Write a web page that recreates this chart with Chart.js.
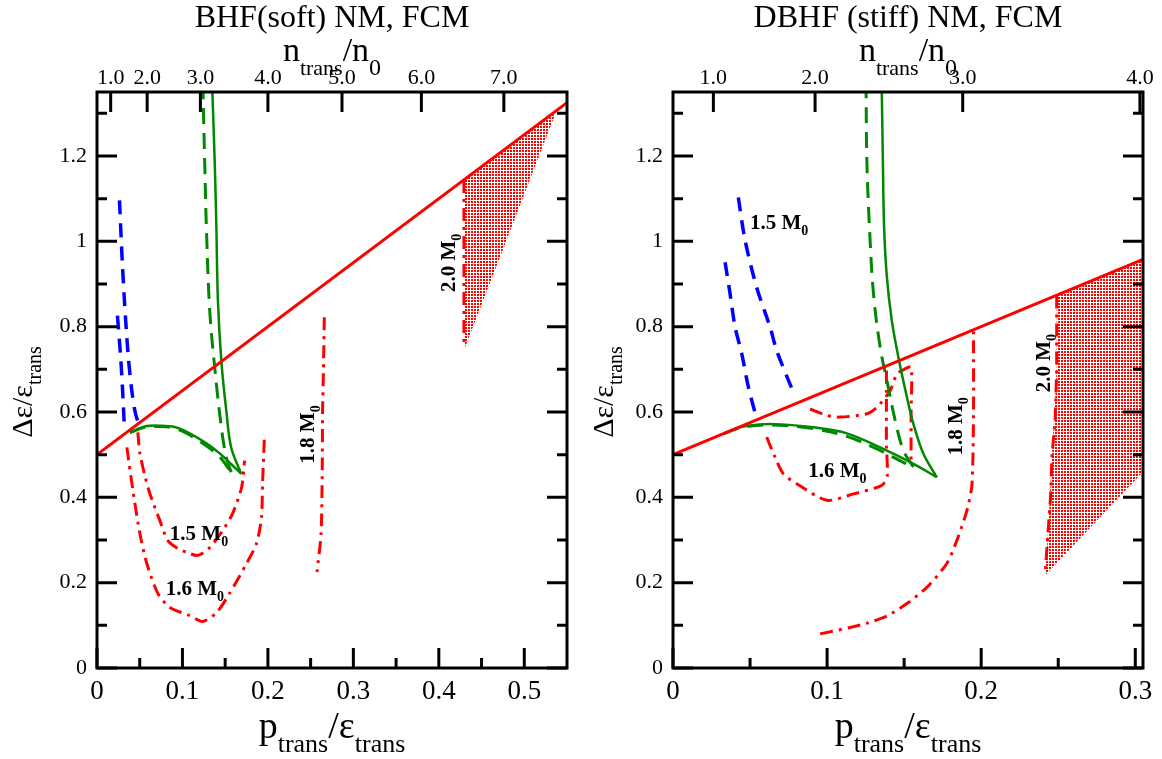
<!DOCTYPE html>
<html>
<head>
<meta charset="utf-8">
<script src="https://cdn.jsdelivr.net/npm/chart.js@4.4.1/dist/chart.umd.min.js"></script>
<style>
  body { margin: 0; background: #fff; }
  #wrap { display: flex; width: 1162px; height: 759px; }
  canvas { display: block; }
</style>
</head>
<body>
<div id="wrap">
  <canvas id="soft" width="581" height="759"></canvas>
  <canvas id="stiff" width="581" height="759"></canvas>
</div>
<script>
const SERIF = '"Liberation Serif", "Times New Roman", serif';

// ---- shared axis ticks ----
const yMajor = [0, 0.2, 0.4, 0.6, 0.8, 1.0, 1.2];
const yMajorLabels = ['0', '0.2', '0.4', '0.6', '0.8', '1', '1.2'];
const yMinor = [0.1, 0.3, 0.5, 0.7, 0.9, 1.1, 1.3];

// ---- left panel: BHF (soft) ----
const softXMajor = [0, 0.1, 0.2, 0.3, 0.4, 0.5];
const softXLabels = ['0', '0.1', '0.2', '0.3', '0.4', '0.5'];
const softXMinor = [0.05, 0.15, 0.25, 0.35, 0.45];
const softTopPos = [0.016, 0.0587, 0.121, 0.2, 0.2867, 0.3796, 0.4761];
const softTopLabels = ['1.0', '2.0', '3.0', '4.0', '5.0', '6.0', '7.0'];

const softRedLine = [[0, 0.5], [0.55, 1.325]];
const softBlueA = [[0.0263, 1.096], [0.0298, 0.943], [0.0321, 0.861], [0.0338, 0.807], [0.0368, 0.725],
  [0.0403, 0.657], [0.0443, 0.603], [0.0484, 0.573]];
const softBlueB = [[0.0239, 0.826], [0.0274, 0.737], [0.0298, 0.657], [0.0321, 0.561]];
const softGreenArc = [[0.0385, 0.552], [0.056, 0.566], [0.0735, 0.568], [0.091, 0.565], [0.1085, 0.55],
  [0.1284, 0.526], [0.1435, 0.503], [0.1575, 0.477], [0.1688, 0.455]];
const softGreenRise = [[0.1688, 0.455], [0.157, 0.517], [0.1513, 0.603], [0.1455, 0.72], [0.1415, 0.861],
  [0.1397, 1.033], [0.1377, 1.189], [0.135, 1.35]];
const softDashArc = [[0.0385, 0.552], [0.056, 0.564], [0.0735, 0.566], [0.091, 0.562], [0.1085, 0.546],
  [0.1284, 0.52], [0.1435, 0.495], [0.157, 0.459]];
const softDashRise = [[0.157, 0.459], [0.1513, 0.494], [0.1455, 0.564], [0.1377, 0.705], [0.1319, 0.838],
  [0.128, 1.033], [0.126, 1.189], [0.124, 1.35]];
const softRed15 = [[0.0478, 0.552], [0.0502, 0.503], [0.056, 0.451], [0.0618, 0.409], [0.0735, 0.346],
  [0.0828, 0.299], [0.0945, 0.28], [0.105, 0.271], [0.1179, 0.264], [0.1319, 0.282], [0.147, 0.322],
  [0.1587, 0.362], [0.1692, 0.423], [0.1727, 0.486]];
const softRed16 = [[0.035, 0.517], [0.042, 0.416], [0.0502, 0.315], [0.0583, 0.245], [0.0712, 0.175],
  [0.0852, 0.142], [0.1085, 0.123], [0.1237, 0.109], [0.14, 0.13], [0.1552, 0.175], [0.175, 0.245],
  [0.1867, 0.292], [0.1925, 0.353], [0.1937, 0.432], [0.196, 0.545]];
const softRed18 = [[0.266, 0.822], [0.265, 0.7], [0.264, 0.603], [0.2635, 0.45], [0.2622, 0.315], [0.2575, 0.225]];
const softRed20 = [[0.4294, 1.144], [0.4294, 0.75]];
const softShade = [[0.4294, 1.144], [0.538, 1.307], [0.4294, 0.745]];
const softNotes = [
  { x: 0.0852, y: 0.3, text: '1.5 M', rot: false },
  { x: 0.0805, y: 0.17, text: '1.6 M', rot: false },
  { x: 0.2544, y: 0.479, text: '1.8 M', rot: true },
  { x: 0.4189, y: 0.881, text: '2.0 M', rot: true }
];

// ---- right panel: DBHF (stiff) ----
const stiffXMajor = [0, 0.1, 0.2, 0.3];
const stiffXLabels = ['0', '0.1', '0.2', '0.3'];
const stiffXMinor = [0.05, 0.15, 0.25];
const stiffTopPos = [0.0262, 0.0922, 0.188, 0.303];
const stiffTopLabels = ['1.0', '2.0', '3.0', '4.0'];

const stiffRedLine = [[0, 0.5], [0.305, 0.9575]];
const stiffBlueA = [[0.0424, 1.103], [0.0468, 1.002], [0.0543, 0.892], [0.063, 0.799], [0.0673, 0.744], [0.0781, 0.646]];
const stiffBlueB = [[0.0338, 0.951], [0.037, 0.878], [0.0403, 0.799], [0.0446, 0.737], [0.0487, 0.662], [0.0543, 0.584]];
const stiffGreenArc = [[0.0327, 0.549], [0.0435, 0.564], [0.0565, 0.571], [0.0695, 0.571], [0.0909, 0.564],
  [0.1128, 0.55], [0.1344, 0.517], [0.1558, 0.479], [0.1712, 0.447]];
const stiffGreenRise = [[0.1712, 0.447], [0.1625, 0.502], [0.156, 0.572], [0.1518, 0.635], [0.1463, 0.728],
  [0.142, 0.814], [0.1388, 0.916], [0.137, 1.033], [0.1362, 1.189], [0.1355, 1.35]];
const stiffDashArc = [[0.0327, 0.549], [0.0435, 0.563], [0.0565, 0.569], [0.0695, 0.569], [0.0909, 0.561],
  [0.1128, 0.543], [0.1344, 0.51], [0.1494, 0.482], [0.156, 0.471]];
const stiffDashRise = [[0.156, 0.471], [0.1495, 0.51], [0.1442, 0.58], [0.1388, 0.674], [0.1345, 0.75],
  [0.1301, 0.877], [0.1275, 1.033], [0.1258, 1.189], [0.1253, 1.35]];
const stiffRed15 = [[0.089, 0.607], [0.0998, 0.592], [0.1084, 0.588], [0.1258, 0.596], [0.1323, 0.611],
  [0.1409, 0.65], [0.1453, 0.689], [0.15, 0.7], [0.1545, 0.705], [0.1545, 0.6], [0.1545, 0.487]];
const stiffRed16 = [[0.0608, 0.541], [0.0662, 0.494], [0.0716, 0.455], [0.0803, 0.432], [0.0998, 0.393],
  [0.1171, 0.408], [0.1355, 0.428], [0.139, 0.45], [0.1385, 0.52], [0.1385, 0.62], [0.1385, 0.707]];
const stiffRed18 = [[0.0955, 0.08], [0.115, 0.095], [0.1258, 0.105], [0.1388, 0.122], [0.1518, 0.151],
  [0.1647, 0.189], [0.1777, 0.245], [0.1842, 0.299], [0.1907, 0.369], [0.194, 0.43], [0.195, 0.6], [0.195, 0.79]];
const stiffRed20 = [[0.249, 0.873], [0.249, 0.7], [0.248, 0.58], [0.246, 0.5], [0.245, 0.4], [0.243, 0.3], [0.2415, 0.22]];
const stiffShade = [[0.249, 0.873], [0.305, 0.9575], [0.305, 0.46], [0.2415, 0.217], [0.243, 0.3], [0.246, 0.5], [0.249, 0.7]];
const stiffNotes = [
  { x: 0.05, y: 1.03, text: '1.5 M', rot: false },
  { x: 0.0877, y: 0.447, text: '1.6 M', rot: false },
  { x: 0.1875, y: 0.498, text: '1.8 M', rot: true },
  { x: 0.2448, y: 0.646, text: '2.0 M', rot: true }
];

const RED = '#ff0000', BLUE = '#0000ff', GREEN = '#008800';
const DASH = [14, 9], GDASH = [16, 9], DASHDOT = [13, 6, 3, 6];

function pts(a) { return a.map(p => ({ x: p[0], y: p[1] })); }

// red stipple on white for the shaded 2.0 M0 region: 2x2 dots on a 3px grid
function dotPattern(ctx) {
  const c = document.createElement('canvas');
  c.width = 3; c.height = 3;
  const g = c.getContext('2d');
  g.fillStyle = '#ffffff';
  g.fillRect(0, 0, 3, 3);
  g.fillStyle = RED;
  g.fillRect(0, 0, 2, 2);
  return ctx.createPattern(c, 'repeat');
}

function line(data, color, width, dash, tension) {
  return { data: pts(data), showLine: true, borderColor: color, borderWidth: width,
    borderDash: dash || [], pointRadius: 0, fill: false, tension: tension || 0 };
}

// draw text made of pieces with subscripts, centred on cx
function richText(ctx, cx, cy, parts, rot) {
  ctx.save();
  ctx.translate(cx, cy);
  if (rot) ctx.rotate(-Math.PI / 2);
  ctx.fillStyle = '#000';
  ctx.textBaseline = 'alphabetic';
  ctx.textAlign = 'left';
  let total = 0;
  parts.forEach(p => { ctx.font = p.size + 'px ' + SERIF; total += ctx.measureText(p.t).width; });
  let x = -total / 2;
  parts.forEach(p => {
    ctx.font = p.size + 'px ' + SERIF;
    ctx.fillText(p.t, x, p.dy || 0);
    x += ctx.measureText(p.t).width;
  });
  ctx.restore();
}

const decorPlugin = {
  id: 'decor',
  afterDraw(chart, args, o) {
    const { ctx, chartArea: a, scales } = chart;
    const sx = scales.x, sy = scales.y, st = scales.x2;
    ctx.save();
    ctx.strokeStyle = '#000';
    ctx.lineWidth = 3;
    ctx.lineCap = 'butt';
    ctx.setLineDash([]);
    ctx.beginPath();
    yMajor.forEach(v => {
      const p = sy.getPixelForValue(v);
      ctx.moveTo(a.left, p); ctx.lineTo(a.left + 20, p);
      ctx.moveTo(a.right, p); ctx.lineTo(a.right - 20, p);
    });
    yMinor.forEach(v => {
      const p = sy.getPixelForValue(v);
      ctx.moveTo(a.left, p); ctx.lineTo(a.left + 10, p);
      ctx.moveTo(a.right, p); ctx.lineTo(a.right - 10, p);
    });
    o.xMajor.forEach(v => {
      const p = sx.getPixelForValue(v);
      ctx.moveTo(p, a.bottom); ctx.lineTo(p, a.bottom - 20);
    });
    o.xMinor.forEach(v => {
      const p = sx.getPixelForValue(v);
      ctx.moveTo(p, a.bottom); ctx.lineTo(p, a.bottom - 10);
    });
    o.topPos.forEach(v => {
      const p = st.getPixelForValue(v);
      ctx.moveTo(p, a.top); ctx.lineTo(p, a.top + 20);
    });
    ctx.stroke();
    ctx.strokeRect(a.left, a.top, a.right - a.left, a.bottom - a.top);
    ctx.restore();

    // panel title
    const cx = (a.left + a.right) / 2;
    ctx.save();
    ctx.fillStyle = '#000';
    ctx.font = '32px ' + SERIF;
    ctx.textAlign = 'center';
    ctx.textBaseline = 'alphabetic';
    ctx.fillText(o.title, cx, 27);
    ctx.restore();

    // top axis title n_trans/n_0
    richText(ctx, cx, 61, [
      { t: 'n', size: 34 }, { t: 'trans', size: 22, dy: 14 }, { t: '/n', size: 34 }, { t: '0', size: 24, dy: 14 }
    ]);
    // bottom axis title p_trans/eps_trans
    richText(ctx, cx, 738, [
      { t: 'p', size: 38 }, { t: 'trans', size: 26, dy: 14 }, { t: '/\u03b5', size: 38 }, { t: 'trans', size: 26, dy: 14 }
    ]);
    // y axis title
    richText(ctx, 32, (a.top + a.bottom) / 2 + 12, [
      { t: '\u0394\u03b5/\u03b5', size: 30 }, { t: 'trans', size: 20, dy: 9 }
    ], true);

    // mass labels
    o.notes.forEach(n => {
      const px = sx.getPixelForValue(n.x), py = sy.getPixelForValue(n.y);
      ctx.save();
      ctx.translate(px, py);
      if (n.rot) ctx.rotate(-Math.PI / 2);
      ctx.fillStyle = '#000';
      ctx.textAlign = 'left';
      ctx.textBaseline = 'alphabetic';
      ctx.font = 'bold 21px ' + SERIF;
      ctx.fillText(n.text, 0, 0);
      const w = ctx.measureText(n.text).width;
      ctx.font = 'bold 14px ' + SERIF;
      ctx.fillText('0', w, 6);
      ctx.restore();
    });
  }
};

function makePanel(id, cfg) {
  const c = document.getElementById(id).getContext('2d');
  const shade = line(cfg.shade, 'rgba(255,0,0,0)', 0);
  shade.fill = 'shape';
  shade.backgroundColor = dotPattern(c);
  // first entry is drawn on top, last entry (the shading) at the bottom
  const datasets = [
    line(cfg.redLine, RED, 3),
    line(cfg.greenArc, GREEN, 2.5, [], 0.35),
    line(cfg.greenRise, GREEN, 2.5, [], 0.35),
    line(cfg.dashArc, GREEN, 3, GDASH, 0.35),
    line(cfg.dashRise, GREEN, 3, GDASH, 0.35),
    line(cfg.blueA, BLUE, 3.5, DASH, 0.3),
    line(cfg.blueB, BLUE, 3.5, DASH, 0.3),
    line(cfg.red15, RED, 3, DASHDOT, 0.25),
    line(cfg.red16, RED, 3, DASHDOT, 0.25),
    line(cfg.red18, RED, 3, DASHDOT, 0.25),
    line(cfg.red20, RED, 3, DASHDOT),
    shade
  ];
  const tickFont = size => ({ family: SERIF, size: size });
  return new Chart(c, {
    type: 'scatter',
    data: { datasets },
    options: {
      responsive: false,
      animation: false,
      events: [],
      layout: { padding: { left: 0, right: cfg.padRight, top: 0, bottom: 0 } },
      plugins: { legend: { display: false }, tooltip: { enabled: false }, decor: cfg.decor },
      scales: {
        x: {
          type: 'linear', position: 'bottom', min: 0, max: cfg.xMax,
          grid: { display: false, drawTicks: false }, border: { display: false },
          afterBuildTicks: s => { s.ticks = cfg.decor.xMajor.map(v => ({ value: v })); },
          afterFit: s => { s.height = 91; },
          ticks: { autoSkip: false, maxRotation: 0, padding: 8, color: '#000', font: tickFont(27),
            callback: (v, i) => cfg.xLabels[i] }
        },
        x2: {
          type: 'linear', position: 'top', min: 0, max: cfg.xMax,
          grid: { display: false, drawTicks: false }, border: { display: false },
          afterBuildTicks: s => { s.ticks = cfg.decor.topPos.map(v => ({ value: v })); },
          afterFit: s => { s.height = 92; },
          ticks: { autoSkip: false, maxRotation: 0, padding: 1, color: '#000', font: tickFont(22),
            callback: (v, i) => cfg.topLabels[i] }
        },
        y: {
          type: 'linear', position: 'left', min: 0, max: 1.35,
          grid: { display: false, drawTicks: false }, border: { display: false },
          afterBuildTicks: s => { s.ticks = yMajor.map(v => ({ value: v })); },
          afterFit: s => { s.width = cfg.yWidth; },
          ticks: { autoSkip: false, padding: 10, color: '#000', font: tickFont(22),
            callback: (v, i) => yMajorLabels[i] }
        }
      }
    },
    plugins: [decorPlugin]
  });
}

makePanel('soft', {
  xMax: 0.55, padRight: 14, yWidth: 97,
  xLabels: softXLabels, topLabels: softTopLabels,
  redLine: softRedLine, greenArc: softGreenArc, greenRise: softGreenRise,
  dashArc: softDashArc, dashRise: softDashRise,
  blueA: softBlueA, blueB: softBlueB, red15: softRed15, red16: softRed16, red18: softRed18,
  red20: softRed20, shade: softShade,
  decor: { title: 'BHF(soft) NM, FCM', xMajor: softXMajor, xMinor: softXMinor, topPos: softTopPos, notes: softNotes }
});

makePanel('stiff', {
  xMax: 0.305, padRight: 19, yWidth: 92,
  xLabels: stiffXLabels, topLabels: stiffTopLabels,
  redLine: stiffRedLine, greenArc: stiffGreenArc, greenRise: stiffGreenRise,
  dashArc: stiffDashArc, dashRise: stiffDashRise,
  blueA: stiffBlueA, blueB: stiffBlueB, red15: stiffRed15, red16: stiffRed16, red18: stiffRed18,
  red20: stiffRed20, shade: stiffShade,
  decor: { title: 'DBHF (stiff) NM, FCM', xMajor: stiffXMajor, xMinor: stiffXMinor, topPos: stiffTopPos, notes: stiffNotes }
});
</script>
</body>
</html>
